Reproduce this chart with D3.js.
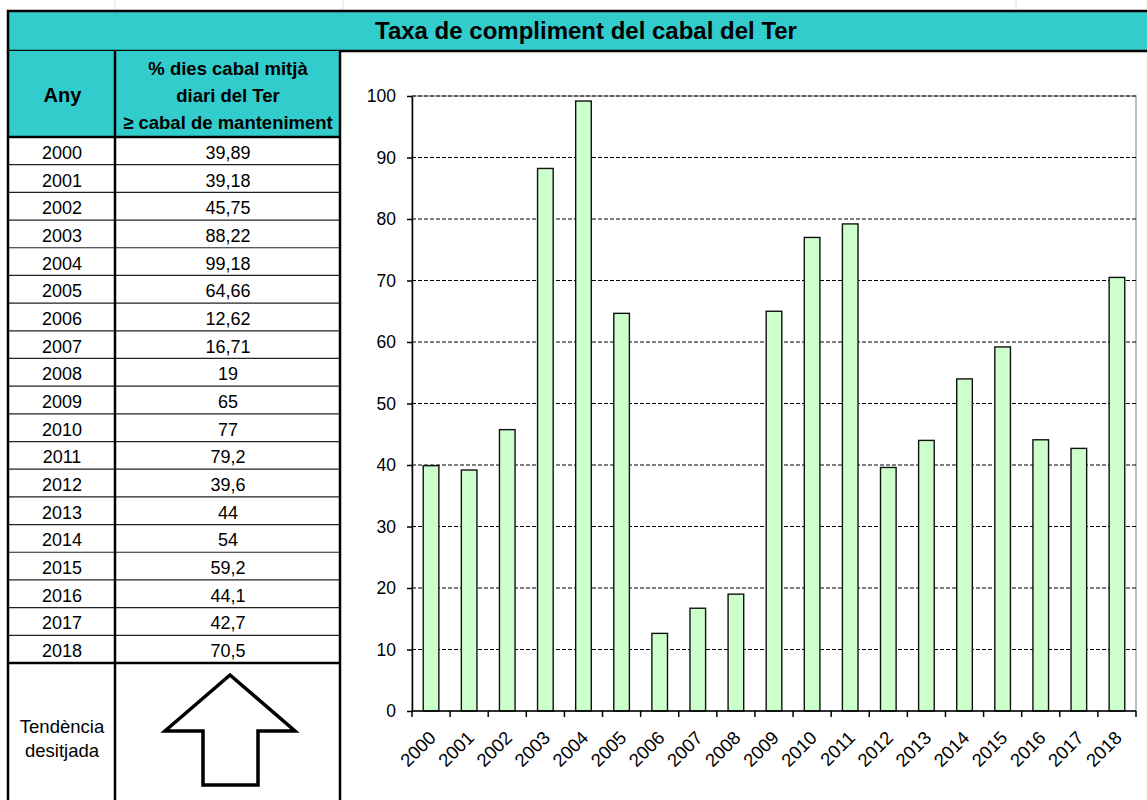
<!DOCTYPE html>
<html>
<head>
<meta charset="utf-8">
<script src="https://cdn.jsdelivr.net/npm/d3@7"></script>
<style>
  body { margin: 0; background: #fff; }
  svg { display: block; font-family: "Liberation Sans", Arial, sans-serif; }
</style>
</head>
<body>
<div id="chart"></div>
<script>
const years = ['2000', '2001', '2002', '2003', '2004', '2005', '2006', '2007', '2008', '2009',
  '2010', '2011', '2012', '2013', '2014', '2015', '2016', '2017', '2018'];
const values = [39.89, 39.18, 45.75, 88.22, 99.18, 64.66, 12.62, 16.71, 19, 65,
  77, 79.2, 39.6, 44, 54, 59.2, 44.1, 42.7, 70.5];
const valueLabels = ['39,89', '39,18', '45,75', '88,22', '99,18', '64,66', '12,62', '16,71', '19', '65',
  '77', '79,2', '39,6', '44', '54', '59,2', '44,1', '42,7', '70,5'];
const yTicks = [0, 10, 20, 30, 40, 50, 60, 70, 80, 90, 100];
const title = 'Taxa de compliment del cabal del Ter';
const headerLines = ['% dies cabal mitjà', 'diari del Ter', '≥ cabal de manteniment'];

const W = 1147, H = 800;
const svg = d3.select('#chart').append('svg')
  .attr('width', W).attr('height', H);

// faint spreadsheet grid marks
[115, 343, 1016].forEach(function(x) {
  svg.append('line').attr('x1', x).attr('x2', x).attr('y1', 0).attr('y2', 10)
    .attr('stroke', '#dde3ea').attr('stroke-width', 1);
});

// title bar
svg.append('rect')
  .attr('x', 8).attr('y', 11).attr('width', 1160).attr('height', 40)
  .attr('fill', '#33cccc').attr('stroke', '#000').attr('stroke-width', 2.5);
svg.append('text')
  .attr('x', 586).attr('y', 39)
  .attr('text-anchor', 'middle')
  .attr('font-size', 24).attr('font-weight', 'bold')
  .text(title);

// table
const colX = [8, 115, 340];
const headTop = 51, headBottom = 137, rowsBottom = 663;
const rowY = d3.scaleBand().domain(years).range([headBottom, rowsBottom]);

svg.append('rect')
  .attr('x', colX[0]).attr('y', headTop)
  .attr('width', colX[2] - colX[0]).attr('height', headBottom - headTop)
  .attr('fill', '#33cccc');

svg.append('text')
  .attr('x', (colX[0] + colX[1]) / 2 + 1).attr('y', 102)
  .attr('text-anchor', 'middle')
  .attr('font-size', 20).attr('font-weight', 'bold')
  .text('Any');

svg.selectAll('text.head')
  .data(headerLines)
  .enter()
  .append('text')
  .attr('class', 'head')
  .attr('x', 228)
  .attr('y', function(d, i) { return 75 + i * 27; })
  .attr('text-anchor', 'middle')
  .attr('font-size', 18.5).attr('font-weight', 'bold')
  .text(function(d) { return d; });

// row separators
svg.selectAll('line.row')
  .data(years.slice(1))
  .enter()
  .append('line')
  .attr('class', 'row')
  .attr('x1', colX[0]).attr('x2', colX[2])
  .attr('y1', function(d) { return rowY(d); })
  .attr('y2', function(d) { return rowY(d); })
  .attr('stroke', '#222').attr('stroke-width', 1.2);

svg.selectAll('text.year')
  .data(years)
  .enter()
  .append('text')
  .attr('class', 'year')
  .attr('x', 62)
  .attr('y', function(d) { return rowY(d) + rowY.bandwidth() / 2 + 8; })
  .attr('text-anchor', 'middle')
  .attr('font-size', 18)
  .text(function(d) { return d; });

svg.selectAll('text.val')
  .data(valueLabels)
  .enter()
  .append('text')
  .attr('class', 'val')
  .attr('x', 228)
  .attr('y', function(d, i) { return rowY(years[i]) + rowY.bandwidth() / 2 + 8; })
  .attr('text-anchor', 'middle')
  .attr('font-size', 18)
  .text(function(d) { return d; });

// thick horizontal lines and vertical borders
[headBottom, rowsBottom].forEach(function(y) {
  svg.append('line').attr('x1', colX[0]).attr('x2', colX[2])
    .attr('y1', y).attr('y2', y)
    .attr('stroke', '#000').attr('stroke-width', 2.5);
});
colX.forEach(function(x) {
  svg.append('line').attr('x1', x).attr('x2', x)
    .attr('y1', headTop).attr('y2', H)
    .attr('stroke', '#000').attr('stroke-width', 2.5);
});

// desired trend
svg.append('text')
  .attr('x', 62).attr('y', 733)
  .attr('text-anchor', 'middle').attr('font-size', 18.5)
  .selectAll('tspan')
  .data(['Tendència', 'desitjada'])
  .enter()
  .append('tspan')
  .attr('x', 62)
  .attr('dy', function(d, i) { return i === 0 ? 0 : 24; })
  .text(function(d) { return d; });

svg.append('path')
  .attr('d', d3.line()([[230, 675], [295, 731], [258, 731], [258, 785],
    [203, 785], [203, 731], [165, 731]]) + 'Z')
  .attr('fill', '#fff').attr('stroke', '#000')
  .attr('stroke-width', 3.5).attr('stroke-linejoin', 'miter');

// bar chart
const plot = {left: 412, right: 1136, top: 96, bottom: 711};
const x = d3.scaleBand().domain(years)
  .range([plot.left, plot.right]).paddingInner(0.59).paddingOuter(0.295);
const y = d3.scaleLinear().domain([0, 100]).range([plot.bottom, plot.top]);

// plot frame (gray)
svg.append('rect')
  .attr('x', plot.left).attr('y', plot.top)
  .attr('width', plot.right - plot.left).attr('height', plot.bottom - plot.top)
  .attr('fill', 'none').attr('stroke', '#aaa').attr('stroke-width', 1.5);

// gridlines
svg.selectAll('line.grid')
  .data(yTicks.filter(function(d) { return d > 0; }))
  .enter()
  .append('line')
  .attr('class', 'grid')
  .attr('x1', plot.left).attr('x2', plot.right)
  .attr('y1', function(d) { return y(d); })
  .attr('y2', function(d) { return y(d); })
  .attr('stroke', '#000').attr('stroke-width', 1)
  .attr('stroke-dasharray', '4,2');

svg.selectAll('rect.bar')
  .data(values)
  .enter()
  .append('rect')
  .attr('class', 'bar')
  .attr('x', function(d, i) { return x(years[i]); })
  .attr('y', function(d) { return y(d); })
  .attr('width', x.bandwidth())
  .attr('height', function(d) { return y(0) - y(d); })
  .attr('fill', '#ccffcc').attr('stroke', '#111').attr('stroke-width', 1.4);

// y axis
const yAxis = svg.append('g')
  .attr('transform', 'translate(' + plot.left + ',0)')
  .call(d3.axisLeft(y).tickValues(yTicks).tickSize(5).tickSizeOuter(0).tickPadding(11));
yAxis.select('.domain').attr('stroke', '#000').attr('stroke-width', 1.5);
yAxis.selectAll('.tick line').attr('stroke', '#000').attr('stroke-width', 1.5);
yAxis.selectAll('.tick text')
  .attr('font-family', '"Liberation Sans", Arial, sans-serif')
  .attr('font-size', 17.5).attr('fill', '#000');

// x axis: ticks at band boundaries
const step = x.step();
const boundaries = d3.range(years.length + 1).map(function(i) {
  return plot.left + i * step;
});
svg.append('line')
  .attr('x1', plot.left).attr('x2', plot.right)
  .attr('y1', plot.bottom).attr('y2', plot.bottom)
  .attr('stroke', '#000').attr('stroke-width', 1.5);
svg.selectAll('line.xtick')
  .data(boundaries)
  .enter()
  .append('line')
  .attr('class', 'xtick')
  .attr('x1', function(d) { return d; }).attr('x2', function(d) { return d; })
  .attr('y1', plot.bottom).attr('y2', plot.bottom + 6)
  .attr('stroke', '#000').attr('stroke-width', 1.5);

svg.selectAll('text.xlab')
  .data(years)
  .enter()
  .append('text')
  .attr('class', 'xlab')
  .attr('transform', function(d) {
    return 'translate(' + (x(d) + x.bandwidth() / 2 + 6) + ',' + (plot.bottom + 28) + ') rotate(-45)';
  })
  .attr('text-anchor', 'end')
  .attr('font-size', 18.5)
  .text(function(d) { return d; });
</script>
</body>
</html>
